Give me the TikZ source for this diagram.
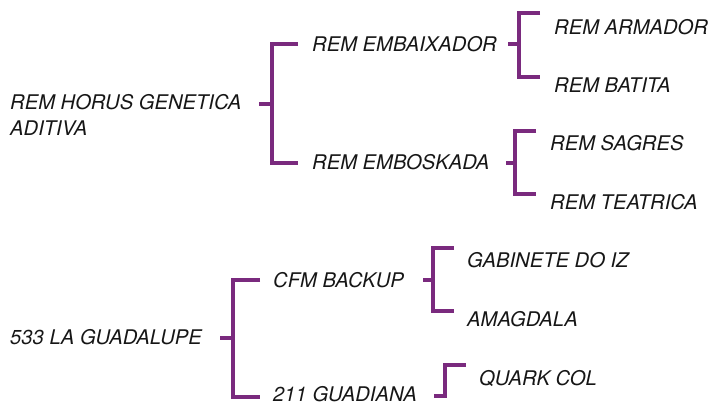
\documentclass[tikz,border=0pt]{standalone}
\usepackage{fontspec}
\setmainfont{TeX Gyre Heros}
\definecolor{brk}{HTML}{7A2A7E}
\definecolor{txt}{HTML}{161616}
\begin{document}
\begin{tikzpicture}[x=1pt,y=-1pt,
  lbl/.style={anchor=base west,inner sep=0pt,text=txt,font=\fontsize{20.2}{26}\selectfont\itshape,align=left},
  br/.style={draw=brk,line width=3.1pt,line cap=butt,line join=miter}]
\useasboundingbox (0,0) rectangle (712,402);
% nodes
\node[lbl] (r1) at (10,135) {REM HORUS GENETICA\\ADITIVA};
\node[lbl] (emb) at (312,51) {REM EMBAIXADOR};
\node[lbl] (arm) at (554,34) {REM ARMADOR};
\node[lbl] (bat) at (554,92) {REM BATITA};
\node[lbl] (emk) at (312,169) {REM EMBOSKADA};
\node[lbl] (sag) at (550,150) {REM SAGRES};
\node[lbl] (tea) at (550,209) {REM TEATRICA};
\node[lbl] (r2) at (10,344) {533 LA GUADALUPE};
\node[lbl] (cfm) at (273,287) {CFM BACKUP};
\node[lbl] (gab) at (467,267) {GABINETE DO IZ};
\node[lbl] (ama) at (467,326) {AMAGDALA};
\node[lbl] (gua) at (273,401) {211 GUADIANA};
\node[lbl] (qua) at (479,385) {QUARK COL};
% bracket coordinates
\coordinate (r1s) at (259,104); \coordinate (r1j) at (272,104);
\coordinate (r1a) at (298,44);  \coordinate (r1b) at (298,163);
\coordinate (e1s) at (508,44);  \coordinate (e1j) at (519,44);
\coordinate (e1a) at (540,13);  \coordinate (e1b) at (540,77);
\coordinate (e2s) at (506,163); \coordinate (e2j) at (515,163);
\coordinate (e2a) at (536,131); \coordinate (e2b) at (536,194);
\coordinate (r2s) at (220,338); \coordinate (r2j) at (233,338);
\coordinate (r2a) at (260,280); \coordinate (r2b) at (260,397);
\coordinate (c1s) at (423,280); \coordinate (c1j) at (433,280);
\coordinate (c1a) at (454,248); \coordinate (c1b) at (454,311);
\coordinate (g1s) at (434,396); \coordinate (g1j) at (445,396);
\coordinate (g1a) at (466,365);
% brackets
\draw[br] (r1s) -- (r1j);
\draw[br] (r1a) -| (r1j |- r1b) -- (r1b);
\draw[br] (e1s) -- (e1j);
\draw[br] (e1a) -| (e1j |- e1b) -- (e1b);
\draw[br] (e2s) -- (e2j);
\draw[br] (e2a) -| (e2j |- e2b) -- (e2b);
\draw[br] (r2s) -- (r2j);
\draw[br] (r2a) -| (r2j |- r2b) -- (r2b);
\draw[br] (c1s) -- (c1j);
\draw[br] (c1a) -| (c1j |- c1b) -- (c1b);
\draw[br] (g1s) -- (g1j) -- (g1j |- g1a) -- (g1a);
\end{tikzpicture}
\end{document}
